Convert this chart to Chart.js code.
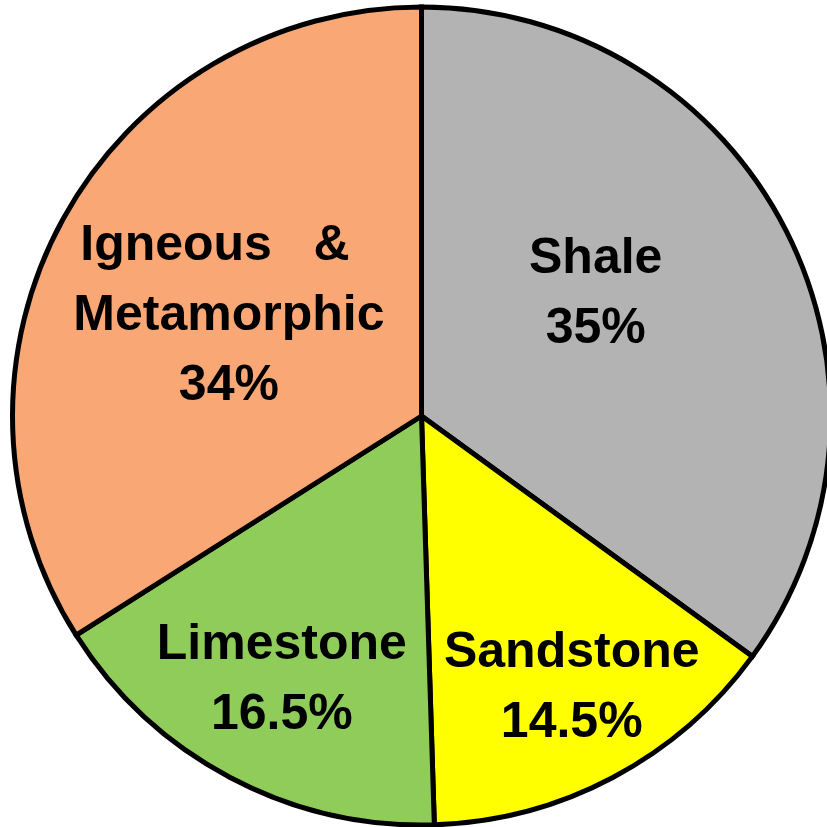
<!DOCTYPE html>
<html>
<head>
<meta charset="utf-8">
<script src="https://cdn.jsdelivr.net/npm/chart.js@4/dist/chart.umd.min.js"></script>
<style>
  html, body { margin: 0; padding: 0; background: #fff; overflow: hidden; }
  #wrap { width: 827px; height: 827px; }
</style>
</head>
<body>
<div id="wrap"><canvas id="rockChart" width="827" height="827"></canvas></div>
<script>
const categories = ['Shale', 'Sandstone', 'Limestone', 'Igneous & Metamorphic'];
const shares = [35, 14.5, 16.5, 34];
const sliceLines = [['Shale'], ['Sandstone'], ['Limestone'], ['Igneous   &  ', 'Metamorphic']];
const sliceColors = ['#b3b3b3', '#ffff00', '#8fcc5a', '#f9a775'];

// where each label sits inside its slice (fraction of radius, angle nudge in degrees)
const labelRadius = [0.52, 0.76, 0.73, 0.53];
const labelNudge = [-8, -1, 0, -1.5];

const sliceLabels = {
  id: 'sliceLabels',
  afterDatasetsDraw(chart) {
    const ctx = chart.ctx;
    const arcs = chart.getDatasetMeta(0).data;
    ctx.save();
    ctx.font = 'bold 50px "Liberation Sans", Arial, sans-serif';
    ctx.fillStyle = '#000';
    ctx.textAlign = 'center';
    ctx.textBaseline = 'middle';
    const lineH = 70;
    arcs.forEach((arc, i) => {
      const { x, y, startAngle, endAngle, outerRadius } = arc.getProps(['x', 'y', 'startAngle', 'endAngle', 'outerRadius'], true);
      const mid = (startAngle + endAngle) / 2 + labelNudge[i] * Math.PI / 180;
      const r = outerRadius * labelRadius[i];
      const cx = x + Math.cos(mid) * r;
      const cy = y + Math.sin(mid) * r;
      const lines = sliceLines[i].concat([shares[i] + '%']);
      const top = cy - (lines.length - 1) * lineH / 2;
      lines.forEach((t, k) => ctx.fillText(t, cx, top + k * lineH));
    });
    ctx.restore();
  }
};

new Chart(document.getElementById('rockChart'), {
  type: 'pie',
  data: {
    labels: categories,
    datasets: [{
      data: shares,
      backgroundColor: sliceColors,
      borderColor: '#000',
      borderWidth: 5,
      borderJoinStyle: 'miter'
    }]
  },
  options: {
    responsive: false,
    animation: false,
    events: [],
    radius: 409,
    layout: { padding: { left: 16, top: 5, right: 0, bottom: 0 } },
    plugins: { legend: { display: false }, tooltip: { enabled: false } }
  },
  plugins: [sliceLabels]
});
</script>
</body>
</html>
